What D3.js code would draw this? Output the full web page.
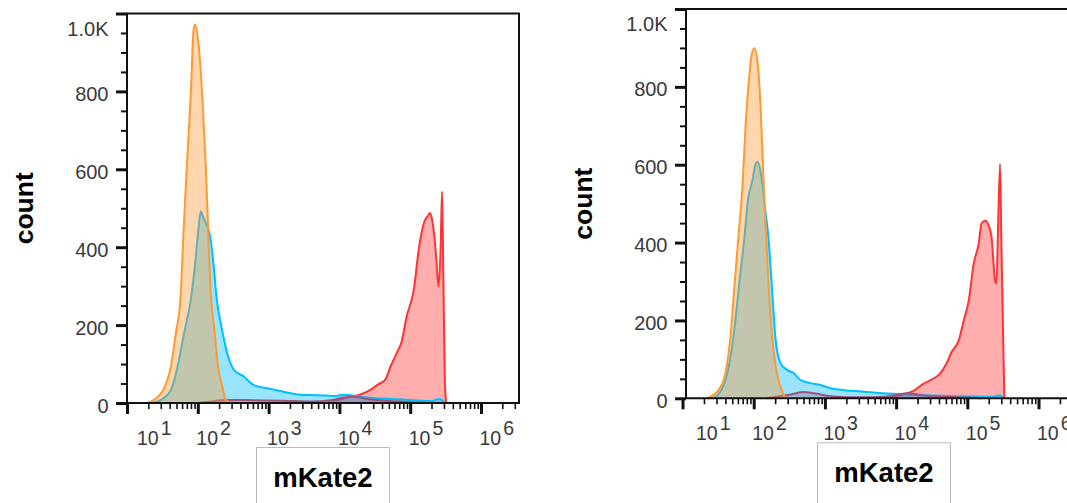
<!DOCTYPE html>
<html>
<head>
<meta charset="utf-8">
<script src="https://cdn.jsdelivr.net/npm/d3@7"></script>
<style>
  body { margin: 0; background: #fff; }
  svg { display: block; font-family: "Liberation Sans", Arial, sans-serif; }
</style>
</head>
<body>
<div class="canvas"></div>
<script>
// data: [log10 intensity, count]
const leftOrange = [[1.296,0],[1.38,8],[1.535,42],[1.62,93],[1.69,180],[1.754,265],[1.80,445],[1.845,607],[1.908,823],[1.937,951],[1.958,972],[2.018,907],[2.066,779],[2.113,607],[2.148,437],[2.176,308],[2.239,180],[2.286,93],[2.348,41],[2.394,8],[2.465,0]];
const leftCyan = [[1.35,0],[1.479,8],[1.62,33],[1.714,93],[1.807,180],[1.901,265],[1.958,350],[2.004,437],[2.042,492],[2.075,478],[2.113,462],[2.183,419],[2.225,350],[2.268,265],[2.33,200],[2.362,170],[2.42,125],[2.51,85],[2.65,68],[2.79,46],[2.98,38],[3.21,29],[3.45,21],[3.7,20],[3.92,18],[4.06,21],[4.3,16],[4.48,13],[4.75,10],[5.0,8],[5.3,5],[5.4,10],[5.45,8],[5.49,0]];
const leftPurple = [[2.0,0],[2.2,4],[2.4,8],[2.8,7],[3.2,6],[3.6,4],[3.9,8],[4.05,14],[4.2,16],[4.4,10],[4.7,5],[5.0,2],[5.3,0]];
const leftRed = [[3.8,0],[4.0,8],[4.15,16],[4.3,22],[4.45,35],[4.55,48],[4.65,60],[4.72,93],[4.81,128],[4.88,158],[4.95,222],[5.05,290],[5.12,393],[5.16,436],[5.21,470],[5.25,480],[5.28,488],[5.31,470],[5.34,430],[5.37,368],[5.40,299],[5.43,400],[5.45,543],[5.47,300],[5.49,51],[5.51,0]];

const rightOrange = [[1.346,0],[1.505,21],[1.603,65],[1.673,158],[1.729,287],[1.785,415],[1.842,543],[1.89,714],[1.933,817],[1.975,886],[2.01,899],[2.056,860],[2.094,758],[2.132,586],[2.164,458],[2.21,287],[2.258,158],[2.318,73],[2.374,30],[2.445,0]];
const rightCyan = [[1.435,0],[1.589,39],[1.715,158],[1.792,287],[1.87,415],[1.919,509],[1.982,560],[2.03,604],[2.059,607],[2.108,569],[2.157,492],[2.206,415],[2.255,287],[2.304,158],[2.374,91],[2.468,73],[2.561,65],[2.655,47],[2.795,39],[2.935,34],[3.076,26],[3.54,17],[4.01,11],[4.71,6],[5.36,4],[5.46,8],[5.5,0]];
const rightPurple = [[2.19,0],[2.35,5],[2.52,10],[2.70,16],[2.85,13],[3.08,5],[3.3,3],[3.7,3],[4.0,8],[4.15,13],[4.35,8],[4.7,4],[5.2,0]];
const rightRed = [[3.8,0],[4.06,8],[4.25,20],[4.39,38],[4.48,46],[4.62,64],[4.71,90],[4.78,119],[4.88,149],[4.95,200],[5.02,251],[5.09,346],[5.16,397],[5.2,449],[5.25,456],[5.30,444],[5.34,414],[5.39,303],[5.41,295],[5.43,423],[5.46,602],[5.48,380],[5.52,0]];

const yMajor = [0, 200, 400, 600, 800, 1000];
const yLabels = ['0', '200', '400', '600', '800', '1.0K'];
const xExps = [1, 2, 3, 4, 5, 6];
const xTitle = 'mKate2';
const yTitle = 'count';

const colors = {red: '#ff3333', cyan: '#00bfff', purple: '#a0527f', orange: '#ff9933'};

const svg = d3.select('.canvas')
    .append('svg')
    .attr('width', 1067)
    .attr('height', 503);

// panel layout
const panels = [
    {left: 127, width: 392, top: 13.5, bottom: 403, xLo: 1.0, dec: 70.8,
     series: [['red', leftRed], ['cyan', leftCyan], ['purple', leftPurple], ['orange', leftOrange]]},
    {left: 686, width: 396, top: 9, bottom: 398.3, xLo: 1.049, dec: 71.2,
     series: [['red', rightRed], ['cyan', rightCyan], ['purple', rightPurple], ['orange', rightOrange]]}
];

const minorX = [];
for (let e = 1; e <= 6; e++) for (let m = 2; m <= 9; m++) minorX.push(m * 10 ** e);
const minorY = d3.range(50, 1000, 50).filter(v => v % 200 !== 0);

panels.forEach(p => {
    const xHi = p.xLo + p.width / p.dec;
    const x = d3.scaleLog().domain([10 ** p.xLo, 10 ** xHi]).range([p.left, p.left + p.width]);
    const y = d3.scaleLinear().domain([0, 1000]).range([p.bottom, p.top]);
    const g = svg.append('g');

    // histograms
    p.series.forEach(([name, data]) => {
        const area = d3.area()
            .x(d => x(10 ** d[0]))
            .y0(y(0))
            .y1(d => y(d[1]))
            .curve(d3.curveMonotoneX);
        const line = d3.line()
            .x(d => x(10 ** d[0]))
            .y(d => y(d[1]))
            .curve(d3.curveMonotoneX);
        g.append('path').attr('d', area(data))
            .attr('fill', colors[name]).attr('fill-opacity', name === 'purple' ? 0.3 : 0.4);
        g.append('path').attr('d', line(data))
            .attr('fill', 'none').attr('stroke', colors[name]).attr('stroke-width', 2)
            .attr('stroke-linejoin', 'round');
    });

    // frame
    g.append('path')
        .attr('d', `M${p.left},${p.bottom}V${p.top}H${p.left + p.width}V${p.bottom}Z`)
        .attr('fill', 'none').attr('stroke', '#111').attr('stroke-width', 2);

    // y axis
    const yAxisMajor = d3.axisLeft(y).tickValues(yMajor).tickSize(11).tickFormat('');
    const yAxisMinor = d3.axisLeft(y).tickValues(minorY).tickSize(6).tickFormat('');
    const ya = g.append('g').attr('transform', `translate(${p.left},0)`).call(yAxisMajor);
    ya.select('.domain').remove();
    ya.selectAll('line').attr('stroke', '#111').attr('stroke-width', 3);
    const ym = g.append('g').attr('transform', `translate(${p.left},0)`).call(yAxisMinor);
    ym.select('.domain').remove();
    ym.selectAll('line').attr('stroke', '#111').attr('stroke-width', 2);

    g.selectAll('.ylab').data(yMajor).join('text')
        .attr('x', p.left - 18.5)
        .attr('y', d => Math.max(y(d), p.top + 12.5) + 2.5)
        .attr('dy', '0.35em')
        .attr('text-anchor', 'end')
        .attr('font-size', 20)
        .attr('fill', '#3a3a3a')
        .text((d, i) => yLabels[i]);

    // x axis
    const xAxisMajor = d3.axisBottom(x).tickValues(xExps.map(e => 10 ** e)).tickSize(11).tickFormat('');
    const xAxisMinor = d3.axisBottom(x).tickValues(minorX.filter(v => x(v) <= p.left + p.width)).tickSize(6).tickFormat('');
    const xa = g.append('g').attr('transform', `translate(0,${p.bottom})`).call(xAxisMajor);
    xa.select('.domain').remove();
    xa.selectAll('line').attr('stroke', '#111').attr('stroke-width', 3);
    const xm = g.append('g').attr('transform', `translate(0,${p.bottom})`).call(xAxisMinor);
    xm.select('.domain').remove();
    xm.selectAll('line').attr('stroke', '#111').attr('stroke-width', 1.6);

    const xl = g.selectAll('.xlab').data(xExps).join('text')
        .attr('x', d => Math.max(x(10 ** d) - 1.5, p.left + 10))
        .attr('y', p.bottom + 42)
        .attr('font-size', 19.5)
        .attr('fill', '#3a3a3a');
    xl.append('tspan').text('10');
    xl.append('tspan').attr('dx', 2).attr('dy', -10.5).text(d => d);

    // titles
    const cx = p.left + p.width / 2;
    g.append('rect')
        .attr('x', cx - 66.5).attr('y', p.bottom + 44.5)
        .attr('width', 133).attr('height', 70)
        .attr('fill', 'none').attr('stroke', '#bbb').attr('stroke-width', 1);
    g.append('text')
        .attr('x', cx).attr('y', p.bottom + 84)
        .attr('text-anchor', 'middle')
        .attr('font-size', 27.5).attr('font-weight', 'bold').attr('fill', '#000')
        .text(xTitle);
    g.append('text')
        .attr('transform', `translate(${p.left - 103},${(p.top + p.bottom) / 2}) rotate(-90)`)
        .attr('text-anchor', 'middle')
        .attr('dy', '0.35em')
        .attr('font-size', 26.5).attr('font-weight', 'bold').attr('fill', '#000')
        .text(yTitle);
});
</script>
</body>
</html>
